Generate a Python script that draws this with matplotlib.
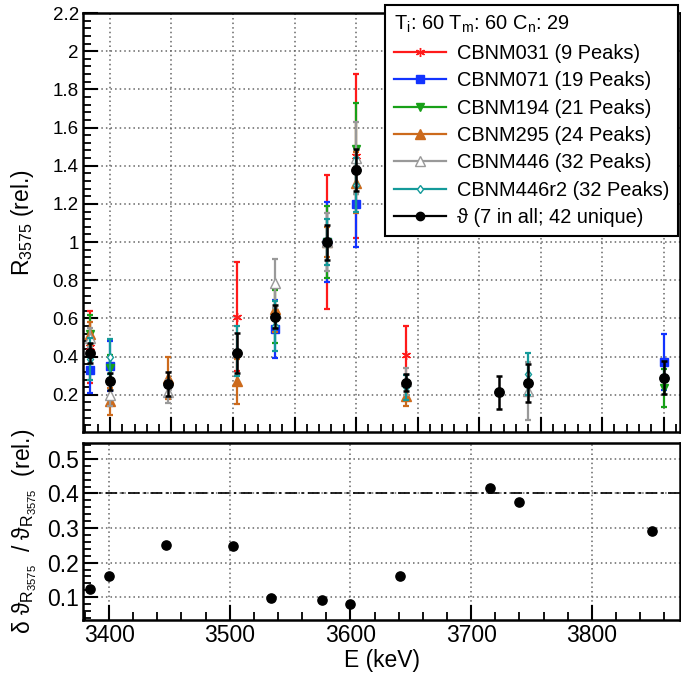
import numpy as np
import matplotlib
matplotlib.use("Agg")
import matplotlib.pyplot as plt
from matplotlib.lines import Line2D
from matplotlib.ticker import MultipleLocator, FormatStrFormatter, FuncFormatter

plt.rcParams['font.family'] = ['Liberation Sans', 'DejaVu Sans']
plt.rcParams['mathtext.fontset'] = 'custom'
plt.rcParams['mathtext.rm'] = 'Liberation Sans'
plt.rcParams['mathtext.it'] = 'Liberation Sans:italic'

nan = np.nan
# peak energies (keV)
E = [3384, 3400, 3447, 3503, 3534, 3576, 3600, 3641, 3716, 3740, 3850]

# per-source relative efficiencies and errors (nan = not measured)
r031 = [0.45, nan, nan, 0.61, nan, 1.00, 1.45, 0.41, nan, nan, nan]
e031 = [0.19, nan, nan, 0.285, nan, 0.35, 0.43, 0.15, nan, nan, nan]
r071 = [0.33, 0.35, nan, nan, 0.545, 1.00, 1.20, nan, nan, nan, 0.37]
e071 = [0.12, 0.13, nan, nan, 0.15, 0.21, 0.225, nan, nan, nan, 0.147]
r194 = [0.52, 0.34, nan, nan, 0.61, 1.00, 1.49, nan, nan, nan, 0.235]
e194 = [0.10, 0.07, nan, nan, 0.14, 0.19, 0.24, nan, nan, nan, 0.10]
r295 = [0.52, 0.165, 0.29, 0.27, 0.65, 1.00, 1.31, 0.195, nan, nan, nan]
e295 = [0.06, 0.07, 0.11, 0.12, 0.12, 0.08, 0.16, 0.055, nan, nan, nan]
r446 = [0.50, 0.20, 0.217, nan, 0.783, 1.00, 1.44, 0.27, nan, 0.22, nan]
e446 = [0.05, 0.06, 0.06, nan, 0.13, 0.15, 0.19, 0.07, nan, 0.15, nan]
r446b = [0.39, 0.40, nan, 0.43, 0.56, 1.00, 1.30, 0.24, nan, 0.31, nan]
e446b = [0.11, 0.09, nan, 0.13, 0.13, 0.12, 0.14, 0.065, nan, 0.11, nan]

# combined result and its relative uncertainty (lower pad)
theta = [0.42, 0.27, 0.257, 0.418, 0.609, 1.00, 1.379, 0.264, 0.212, 0.264, 0.29]
rel = [0.125, 0.162, 0.252, 0.249, 0.099, 0.092, 0.079, 0.162, 0.417, 0.376, 0.292]

series = [
    ("CBNM031 (9 Peaks)", r031, e031, dict(color="#ff1a1a", marker=(6, 2, 0), ms=6.5, mfc="#ff1a1a")),
    ("CBNM071 (19 Peaks)", r071, e071, dict(color="#1233ff", marker="s", ms=6, mfc="#1233ff")),
    ("CBNM194 (21 Peaks)", r194, e194, dict(color="#18a018", marker="v", ms=6, mfc="#18a018")),
    ("CBNM295 (24 Peaks)", r295, e295, dict(color="#cc6a1c", marker="^", ms=6.5, mfc="#cc6a1c")),
    ("CBNM446 (32 Peaks)", r446, e446, dict(color="#999999", marker="^", ms=6.5, mfc="white")),
    ("CBNM446r2 (32 Peaks)", r446b, e446b, dict(color="#149a9a", marker="d", ms=4.5, mfc="white")),
]

fig = plt.figure(figsize=(6.81, 6.73), dpi=100)
W, H = 681, 673
ax1 = fig.add_axes([83 / W, 1 - 432 / H, 597 / W, 419 / H])
ax2 = fig.add_axes([83 / W, 1 - 620 / H, 597 / W, 177 / H])

handles = []
for lab, r, e, st in series:
    ax1.errorbar(E, r, yerr=e, fmt="none", ecolor=st["color"], elinewidth=1.6, capsize=2.2, capthick=1.6)
    ax1.plot(E, r, ls="none", marker=st["marker"], ms=st["ms"], mfc=st["mfc"], mec=st["color"], mew=1.0)
    handles.append(Line2D([], [], color=st["color"], lw=1.6, marker=st["marker"], ms=st["ms"],
                          mfc=st["mfc"], mec=st["color"], mew=1.0, label=lab))

th = np.array(theta)
ax1.errorbar(E, th, yerr=th * np.array(rel), fmt="o", color="k", ms=6.8, elinewidth=1.8, capsize=2.4, capthick=1.8)
handles.append(Line2D([], [], color="k", lw=1.6, marker="o", ms=6, label="\u03d1 (7 in all; 42 unique)"))

ax1.set_xlim(3378.1, 3863.3)
ax1.set_ylim(0.005, 2.2)
ax1.xaxis.set_major_locator(MultipleLocator(50))
ax1.xaxis.set_minor_locator(MultipleLocator(10))
ax1.yaxis.set_major_locator(MultipleLocator(0.2))
ax1.yaxis.set_minor_locator(MultipleLocator(0.04))
ax1.yaxis.set_major_formatter(FuncFormatter(lambda v, p: "%g" % round(v, 2)))
ax1.tick_params(axis="x", labelbottom=False)
ax1.set_ylabel(r"R$_{\mathregular{3575}}$ (rel.)", fontsize=16.5, labelpad=12)

ax2.scatter(E, rel, s=44, color="k", zorder=3)
ax2.axhline(0.4, color="k", lw=1.2, dashes=(7, 2.5, 1.5, 2.5))
ax2.set_xlim(3378.4, 3873.0)
ax2.set_ylim(0.034, 0.546)
ax2.xaxis.set_major_locator(MultipleLocator(100))
ax2.xaxis.set_minor_locator(MultipleLocator(20))
ax2.yaxis.set_major_locator(MultipleLocator(0.1))
ax2.yaxis.set_minor_locator(MultipleLocator(0.02))
ax2.yaxis.set_major_formatter(FormatStrFormatter("%.1f"))
ax2.set_xlabel("E (keV)", fontsize=16.5, labelpad=1)
ax2.set_ylabel("\u03b4 \u03d1" + r"$_{\mathregular{R_{3575}}}$  / " + "\u03d1" + r"$_{\mathregular{R_{3575}}}$  (rel.)",
               fontsize=16.5, labelpad=6)

for ax, fs in ((ax1, 13.5), (ax2, 16.5)):
    ax.grid(True, which="major", ls=(0, (1, 2)), color="#666666", lw=1.1)
    ax.set_axisbelow(True)
    ax.tick_params(which="major", direction="in", length=11, width=1.5, top=False, right=False,
                   labelsize=fs, pad=3)
    ax.tick_params(which="minor", direction="in", length=6, width=1.3, top=False, right=False)
    for s in ax.spines.values():
        s.set_linewidth(1.8)

leg = fig.legend(handles=handles, loc="upper right", bbox_to_anchor=(678 / W, 1 - 5 / H),
                 title=r"T$_{\mathregular{i}}$: 60 T$_{\mathregular{m}}$: 60 C$_{\mathregular{n}}$: 29",
                 fontsize=14.4, title_fontsize=14.4, alignment="left", frameon=True, fancybox=False,
                 edgecolor="k", framealpha=1, borderaxespad=0, handlelength=2.6, handletextpad=0.55,
                 labelspacing=0.42, borderpad=0.45)
leg.get_frame().set_linewidth(1.5)

fig.savefig("out.png", dpi=100)
